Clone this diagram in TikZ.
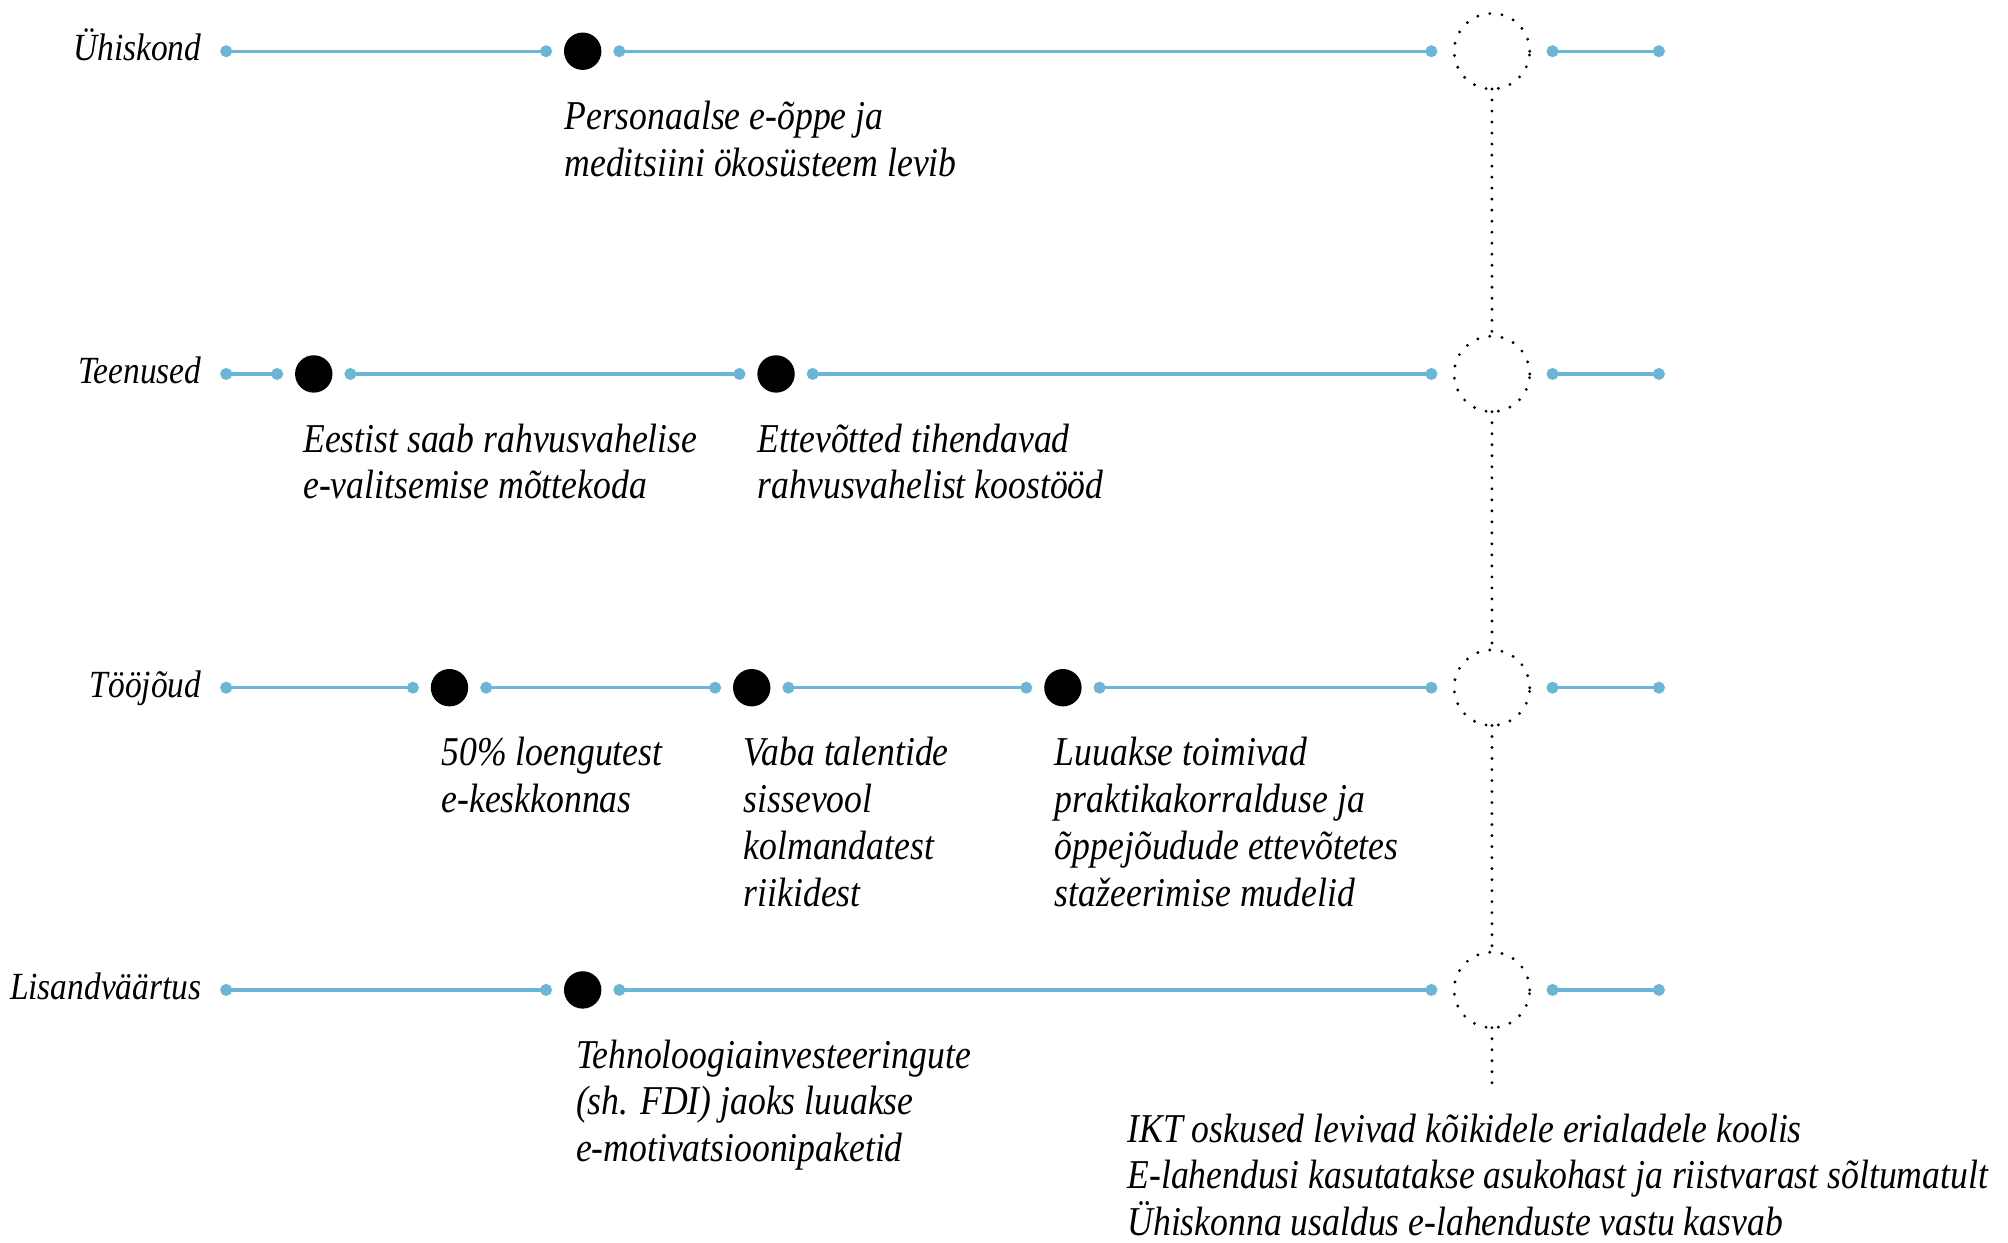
\documentclass[tikz,border=0pt]{standalone}
\usepackage{fontspec}
\usepackage{xcolor}
\usetikzlibrary{arrows.meta}
\newfontfamily\tlfont{Liberation Serif}[FakeStretch=0.87]
\definecolor{lblue}{RGB}{107,182,214}

\begin{document}
\begin{tikzpicture}[x=0.5pt,y=-0.5pt,
    seg/.style={draw=lblue,line width=1.3pt,{Circle[length=4.6pt]}-{Circle[length=4.6pt]}},
    ms node/.style={circle,fill=black,minimum size=14.6pt,inner sep=0pt,outer sep=4.7pt},
    ring node/.style={circle,draw,line width=1.25pt,line cap=round,dash pattern=on 0pt off 4.8pt,minimum size=29.5pt,inner sep=0pt,outer sep=6.6pt},
    vline/.style={draw,line width=1.25pt,line cap=round,dash pattern=on 0pt off 4.3pt,shorten <=-6.6pt,shorten >=-6.6pt},
    row label/.style={anchor=base east,xshift=-7.2pt,yshift=-3.65pt,inner sep=0pt,font=\tlfont\itshape\fontsize{15}{18}\selectfont},
    txt/.style={anchor=north west,xshift=-7.3pt,yshift=-19.2pt,align=left,inner sep=0pt,execute at begin node=\strut,font=\tlfont\itshape\fontsize{16}{18.3}\selectfont}]
        \useasboundingbox (0,0) rectangle (1568,970);
        % Ühiskond
        \coordinate (s1) at (172,40);
        \node[ms node] (d11) at (455,40) {};
        \node[ring node] (r1) at (1165,40) {};
        \coordinate (e1) at (1300,40);
        % Teenused
        \coordinate (s2) at (172,292);
        \node[ms node] (d21) at (245,292) {};
        \node[ms node] (d22) at (606,292) {};
        \node[ring node] (r2) at (1165,292) {};
        \coordinate (e2) at (1300,292);
        % Tööjõud
        \coordinate (s3) at (172,537);
        \node[ms node] (d31) at (351,537) {};
        \node[ms node] (d32) at (587,537) {};
        \node[ms node] (d33) at (830,537) {};
        \node[ring node] (r3) at (1165,537) {};
        \coordinate (e3) at (1300,537);
        % Lisandväärtus
        \coordinate (s4) at (172,773);
        \node[ms node] (d41) at (455,773) {};
        \node[ring node] (r4) at (1165,773) {};
        \coordinate (e4) at (1300,773);
        \coordinate (vend) at (1165,846);

        \node[row label] (l1) at (s1) {Ühiskond};
        \node[row label] (l2) at (s2) {Teenused};
        \node[row label] (l3) at (s3) {Tööjõud};
        \node[row label] (l4) at (s4) {Lisandväärtus};

        \node[txt] (t11) at (d11) {Personaalse e-õppe ja\\meditsiini ökosüsteem levib};
        \node[txt,xshift=3pt] (t21) at (d21) {Eestist saab rahvusvahelise\\e-valitsemise mõttekoda};
        \node[txt] (t22) at (d22) {Ettevõtted tihendavad\\rahvusvahelist koostööd};
        \node[txt,xshift=4pt] (t31) at (d31) {50\% loengutest\\e-keskkonnas};
        \node[txt,xshift=4pt] (t32) at (d32) {Vaba talentide\\sissevool\\kolmandatest\\riikidest};
        \node[txt,xshift=4pt] (t33) at (d33) {Luuakse toimivad\\praktikakorralduse ja\\õppejõudude ettevõtetes\\stažeerimise mudelid};
        \node[txt,xshift=4.5pt] (t41) at (d41) {Tehnoloogiainvesteeringute\\(sh. FDI) jaoks luuakse\\e-motivatsioonipaketid};
        \node[txt,xshift=-135.2pt,yshift=7.6pt] (t5) at (vend) {IKT oskused levivad kõikidele erialadele koolis\\E-lahendusi kasutatakse asukohast ja riistvarast sõltumatult\\Ühiskonna usaldus e-lahenduste vastu kasvab};

        \path
        (s1) edge[seg] (d11)
        (d11) edge[seg] (r1)
        (r1) edge[seg] (e1)
        (s2) edge[seg] (d21)
        (d21) edge[seg] (d22)
        (d22) edge[seg] (r2)
        (r2) edge[seg] (e2)
        (s3) edge[seg] (d31)
        (d31) edge[seg] (d32)
        (d32) edge[seg] (d33)
        (d33) edge[seg] (r3)
        (r3) edge[seg] (e3)
        (s4) edge[seg] (d41)
        (d41) edge[seg] (r4)
        (r4) edge[seg] (e4)
        ;
        \path
        (r1) edge[vline] (r2)
        (r2) edge[vline] (r3)
        (r3) edge[vline] (r4)
        (r4) edge[vline,shorten >=0pt] (vend)
        ;
\end{tikzpicture}
\end{document}
